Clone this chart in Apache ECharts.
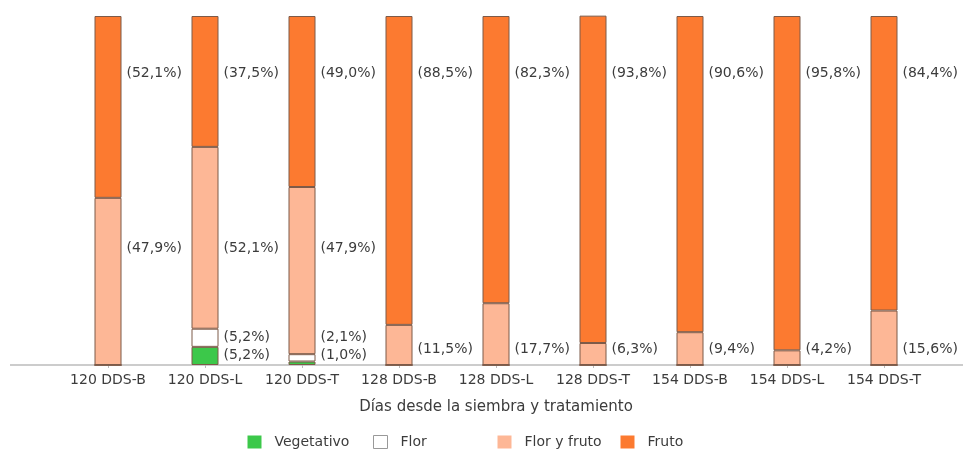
<!DOCTYPE html>
<html>
<head>
<meta charset="utf-8">
<script src="https://cdn.jsdelivr.net/npm/echarts@6/dist/echarts.min.js"></script>
<style>
  html, body { margin: 0; padding: 0; background: #fff; }
  #chart { width: 971px; height: 457px; }
</style>
</head>
<body>
<div id="chart"></div>
<script>
// categorias (dias desde la siembra y tratamiento)
const categories = ['120 DDS-B', '120 DDS-L', '120 DDS-T', '128 DDS-B', '128 DDS-L', '128 DDS-T', '154 DDS-B', '154 DDS-L', '154 DDS-T']
// porcentajes por fase
const vegetativo = [0, 5.2, 1.0, 0, 0, 0, 0, 0, 0]
const flor = [0, 5.2, 2.1, 0, 0, 0, 0, 0, 0]
const florYFruto = [47.9, 52.1, 47.9, 11.5, 17.7, 6.3, 9.4, 4.2, 15.6]
const fruto = [52.1, 37.5, 49.0, 88.5, 82.3, 93.8, 90.6, 95.8, 84.4]

const colors = {
  'Vegetativo': '#3cc84a',
  'Flor': '#ffffff',
  'Flor y fruto': '#fdb796',
  'Fruto': '#fc7a30'
}
const font = 'DejaVu Sans, sans-serif'
const textColor = '#3c3c3c'
const chart = echarts.init(document.getElementById('chart'))

const fmt = p => '(' + p.value.toFixed(1).replace('.', ',') + '%)'

function makeSeries(name, data) {
  return {
    name: name,
    type: 'bar',
    stack: 'total',
    barWidth: 27,
    data: data,
    itemStyle: {
      color: colors[name],
      borderColor: '#7d5a48',
      borderWidth: 1
    },
    label: {
      show: true,
      position: 'right',
      distance: 5,
      formatter: p => p.value > 0 ? fmt(p) : '',
      color: textColor,
      fontFamily: font,
      fontSize: 14
    }
  }
}

// altura (en %) donde se colocan las etiquetas
function labelLevel(seriesIndex, value) {
  if (seriesIndex === 3) return 83.7
  if (seriesIndex === 2) return value > 30 ? 33.5 : 4.6
  if (seriesIndex === 1) return 8
  return 2.8
}

function legendAt(name, left) {
  return {
    data: [name],
    left: left,
    top: 435,
    padding: 0,
    itemWidth: 14,
    itemHeight: 13,
    itemGap: 0,
    icon: 'rect',
    itemStyle: { borderColor: name === 'Flor' ? '#999' : 'transparent', borderWidth: 1 },
    textStyle: { color: textColor, fontFamily: font, fontSize: 14, padding: [0, 0, 0, 8] },
    selectedMode: false
  }
}

const option = {
  animation: false,
  grid: { left: 59.5, right: 38.5, top: 16, bottom: 92 },
  legend: [
    legendAt('Vegetativo', 247),
    legendAt('Flor', 373),
    legendAt('Flor y fruto', 497),
    legendAt('Fruto', 620)
  ],
  xAxis: {
    type: 'category',
    data: categories,
    name: 'Días desde la siembra y tratamiento',
    nameLocation: 'middle',
    nameGap: 35,
    nameTextStyle: { color: textColor, fontFamily: font, fontSize: 15 },
    axisLine: { show: false },
    axisTick: { show: true, alignWithLabel: true, length: 3, lineStyle: { color: '#bbb' } },
    axisLabel: { color: textColor, fontFamily: font, fontSize: 14, margin: 8, interval: 0 }
  },
  yAxis: {
    type: 'value',
    min: 0,
    max: 100,
    show: false
  },
  graphic: [{
    type: 'line',
    shape: { x1: 10, y1: 365, x2: 963, y2: 365 },
    style: { stroke: '#bbb', lineWidth: 1.5 },
    z: 1
  }],
  labelLayout: params => {
    const s = chart.getOption().series[params.seriesIndex]
    const v = s.data[params.dataIndex]
    const y = chart.convertToPixel({ yAxisIndex: 0 }, labelLevel(params.seriesIndex, v))
    return { y: y, verticalAlign: 'middle' }
  },
  series: [
    makeSeries('Vegetativo', vegetativo),
    makeSeries('Flor', flor),
    makeSeries('Flor y fruto', florYFruto),
    makeSeries('Fruto', fruto)
  ]
}
chart.setOption(option)
</script>
</body>
</html>
